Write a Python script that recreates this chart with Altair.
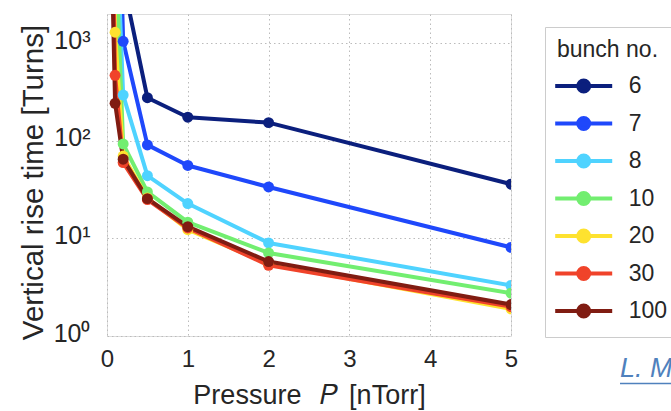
import altair as alt
import pandas as pd

# ---- data ----
pressure = [0.05, 0.1, 0.2, 0.5, 1.0, 2.0, 5.0]
bunches = ["6", "7", "8", "10", "20", "30", "100"]
rise_6 = [None, 1e5, 4300, 277, 175, 154, 36]
rise_7 = [None, 1e6, 1050, 91, 56, 33.7, 8.1]
rise_8 = [None, 4e4, 295, 44, 22.8, 9.0, 3.3]
rise_10 = [None, 1.2e4, 93, 30, 14.7, 7.1, 2.75]
rise_20 = [1e5, 1300, 70, 26, 12.3, 5.5, 1.9]
rise_30 = [1e5, 470, 60, 25, 12.8, 5.3, 2.0]
rise_100 = [1.6e4, 243, 65, 25.6, 13.2, 5.8, 2.1]
series = [rise_6, rise_7, rise_8, rise_10, rise_20, rise_30, rise_100]
colors = ["#0b1f7d", "#1f48fb", "#4fd3ff", "#72ee70", "#fee22f", "#f0432a", "#801c12"]
x_ticks = [0, 1, 2, 3, 4, 5]
y_ticks = [1, 10, 100, 1000]
citation = ["L. Mether"]

rows = []
for b, vals in zip(bunches, series):
    for p, v in zip(pressure, vals):
        if v is not None:
            rows.append({"P": p, "rise": v, "bunch": b})
df = pd.DataFrame(rows)

FONT = "Liberation Sans"
TXT = "#262626"

legend_path = ("M -2.85 0 L 2.85 0 "
               "M 0.55 0 A 0.55 0.55 0 1 1 -0.55 0 A 0.55 0.55 0 1 1 0.55 0 Z")

x_title = "Pressure\u2002\u2009𝑃\u2009\u2009[nTorr]"

lines = alt.Chart(df).mark_line(
    strokeWidth=4, clip=True, strokeJoin="round",
    point=alt.OverlayMarkDef(filled=True, size=120, clip=True, opacity=1),
).encode(
    x=alt.X("P:Q", scale=alt.Scale(domain=[0, 5], nice=False, zero=False),
            axis=alt.Axis(values=x_ticks, title=x_title, format="d",
                          labelFontSize=24, titleFontSize=27, labelPadding=11,
                          titlePadding=11, ticks=False, domain=False,
                          labelFlush=False,
                          grid=True, gridDash=[1.5, 3], gridColor="#bbbbbb",
                          labelColor=TXT, titleColor=TXT, labelFont=FONT,
                          titleFont=FONT, titleFontWeight="normal")),
    y=alt.Y("rise:Q", scale=alt.Scale(type="log", domain=[1, 2000], nice=False),
            axis=alt.Axis(values=y_ticks,
                          labelExpr="datum.value == 1 ? '10⁰' : datum.value == 10 ? '10¹' : datum.value == 100 ? '10²' : '10³'",
                          title="Vertical rise time [Turns]",
                          labelFontSize=25, titleFontSize=29.5, labelPadding=17,
                          labelOffset=-3, titlePadding=5, titleY=168,
                          ticks=False, domain=False, labelFlush=False,
                          grid=True, gridDash=[1.5, 3], gridColor="#bbbbbb",
                          labelColor=TXT, titleColor=TXT, labelFont=FONT,
                          titleFont=FONT, titleFontWeight="normal")),
    color=alt.Color("bunch:N", sort=bunches,
                    scale=alt.Scale(domain=bunches, range=colors),
                    legend=alt.Legend(
                        title="bunch no.", orient="none", legendX=438, legendY=13,
                        padding=12, strokeColor="#cccccc", fillColor="white",
                        titleFontSize=23, labelFontSize=23, titleFont=FONT,
                        labelFont=FONT, titleFontWeight="normal",
                        titleColor=TXT, labelColor=TXT, titlePadding=12,
                        rowPadding=9.5, symbolType=legend_path, symbolSize=400,
                        symbolStrokeWidth=4, symbolOffset=14.7, labelOffset=33,
                        symbolOpacity=1,
                        symbolFillColor={"expr": "scale('color', datum.value)"},
                        symbolStrokeColor={"expr": "scale('color', datum.value)"},
                    )),
    order=alt.Order("P:Q"),
)

cite_df = pd.DataFrame({"t": citation})
cite = alt.Chart(cite_df).mark_text(
    align="left", baseline="alphabetic", fontSize=27, fontStyle="italic",
    font=FONT, color="#4f81bd",
).encode(text="t:N", x=alt.value(513), y=alt.value(363))
underline = alt.Chart(cite_df).mark_rule(color="#4f81bd", strokeWidth=1.5).encode(
    x=alt.value(513), x2=alt.value(700), y=alt.value(369.5))

chart = alt.layer(lines, cite, underline).properties(
    width=404, height=322,
    autosize=alt.AutoSizeParams(type="none"),
    padding={"left": 107, "top": 14, "right": 160, "bottom": 75},
).configure_view(stroke="#aaaaaa", strokeWidth=1.5).configure(background="white")

chart.save("out.html", embed_options={"renderer": "svg", "actions": False})
